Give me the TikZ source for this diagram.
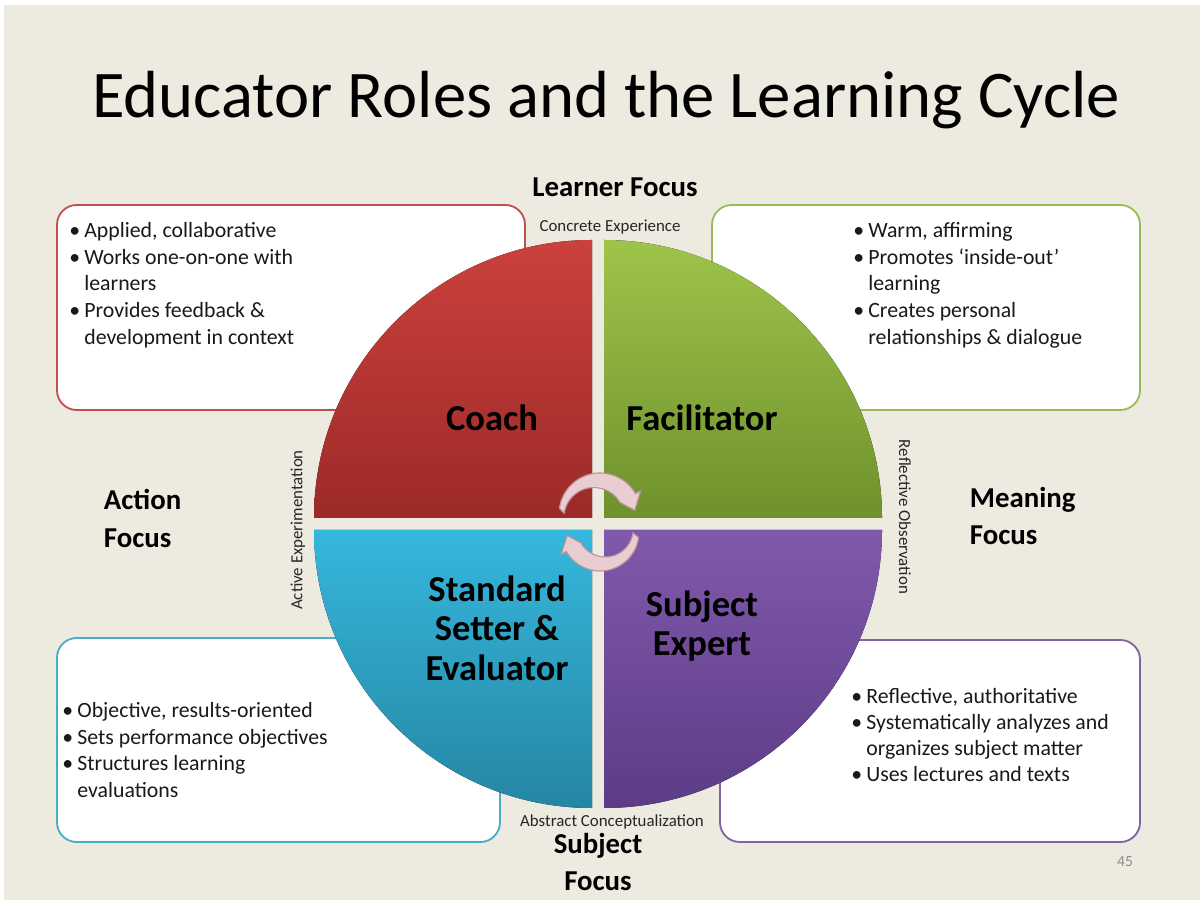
\documentclass[tikz,border=0pt]{standalone}
\usepackage{fontspec}
\setmainfont{Carlito}
\usetikzlibrary{calc}
\definecolor{Paper}{HTML}{EDEAE0}
\definecolor{RedLn}{HTML}{C0504D}
\definecolor{GrnLn}{HTML}{9BBB59}
\definecolor{BluLn}{HTML}{4BACC6}
\definecolor{PurLn}{HTML}{8064A2}
\definecolor{RedTop}{HTML}{CB413C}
\definecolor{RedBot}{HTML}{9C2A28}
\definecolor{GrnTop}{HTML}{9EC44B}
\definecolor{GrnBot}{HTML}{6E912C}
\definecolor{BluTop}{HTML}{36B7DD}
\definecolor{BluBot}{HTML}{2586A3}
\definecolor{PurTop}{HTML}{8159AC}
\definecolor{PurBot}{HTML}{5C3C86}
\definecolor{ArrFill}{HTML}{E9CDD0}
\definecolor{ArrLn}{HTML}{B7959A}
\newcommand{\bul}{\textbullet\hspace{3pt}}
\newcommand{\ind}{\hphantom{\textbullet\hspace{3pt}}}

\begin{document}
\begin{tikzpicture}[x=0.025cm,y=0.025cm]
% Styles
\tikzset{
    infobox/.style={line width=1.3pt, rounded corners=14pt, fill=white},
    boxtext/.style={anchor=north west, align=left, inner sep=0pt,
        font=\fontsize{15.5}{19}\selectfont, text=black!90},
    quadtext/.style={align=center, font=\fontsize{26}{28}\selectfont\bfseries},
    focustext/.style={align=left, font=\fontsize{20.5}{27}\selectfont\bfseries},
    tinytext/.style={font=\fontsize{12}{13}\selectfont, text=black!85},
    cyclearrow/.style={fill=ArrFill, draw=ArrLn, line width=0.8pt}
}

% Page
\useasboundingbox (0,0) rectangle (1200,900);
\fill[Paper] (4,0) rectangle (1200,895);

% Title
\node (TITLE) at (606,800) {\fontsize{47.4}{56}\selectfont Educator Roles and the Learning Cycle};

% Boxes
\path[infobox, draw=RedLn] (57,490) rectangle (525,695);
\path[infobox, draw=GrnLn] (712,490) rectangle (1140,695);
\path[infobox, draw=BluLn] (57,58) rectangle (500,262);
\path[infobox, draw=PurLn] (720,58) rectangle (1140,260);

\node[boxtext] (TXT1) at (69,678) {\bul Applied, collaborative\\
    \bul Works one-on-one with\\ \ind learners\\
    \bul Provides feedback \& \\ \ind development in context};
\node[boxtext] (TXT2) at (853,678) {\bul Warm, affirming\\
    \bul Promotes `inside-out'\\ \ind learning\\
    \bul Creates personal\\ \ind relationships \& dialogue};
\node[boxtext] (TXT3) at (62,198) {\bul Objective, results-oriented\\
    \bul Sets performance objectives\\
    \bul Structures learning\\ \ind evaluations};
\node[boxtext, font=\fontsize{15.5}{18.5}\selectfont] (TXT4) at (851,212) {\bul Reflective, authoritative\\
    \bul Systematically analyzes and\\ \ind organizes subject matter\\
    \bul Uses lectures and texts};

% Quadrants
\fill[top color=RedTop, bottom color=RedBot] (592,382) -- ++(-278,0) arc (180:90:278) -- cycle;
\fill[top color=GrnTop, bottom color=GrnBot] (604,382) -- ++(0,278) arc (90:0:278) -- cycle;
\fill[top color=BluTop, bottom color=BluBot] (592,370) -- ++(0,-278) arc (270:180:278) -- cycle;
\fill[top color=PurTop, bottom color=PurBot] (604,370) -- ++(278,0) arc (0:-90:278) -- cycle;

\node[quadtext] (Q1) at (492,482) {Coach};
\node[quadtext] (Q2) at (702,482) {Facilitator};
\node[quadtext] (Q3) at (497,272) {Standard\\Setter \&\\Evaluator};
\node[quadtext] (Q4) at (702,274) {Subject\\Expert};

% Cycle arrows
\filldraw[cyclearrow] (600,386) ++(172:41) arc (172:30:41) -- ++(30:6)
    -- ($(600,386)+(6:35)$) -- ($(600,386)+(30:23)$) arc (30:172:30) -- cycle;
\filldraw[cyclearrow] (600,368) ++(-8:39) arc (-8:-150:39) -- ++(-150:6)
    -- ($(600,368)+(-174:33)$) -- ($(600,368)+(-150:22)$) arc (-150:-8:28) -- cycle;

% Focus labels
\node[focustext] (LF) at (615,713) {Learner Focus};
\node[focustext, anchor=west] (AF) at (99,382) {Action\\Focus};
\node[focustext, anchor=west] (MF) at (965,384) {Meaning\\Focus};
\node[focustext, align=center] (SF) at (598,38) {Subject\\Focus};

% Stage labels
\node[tinytext] (CE) at (610,673) {Concrete Experience};
\node[tinytext] (AC) at (612,78) {Abstract Conceptualization};
\node[tinytext, rotate=90] (AE) at (298,370) {Active Experimentation};
\node[tinytext, rotate=-90] (RO) at (905,383) {Reflective Observation};

% Page number
\node[text=black!45, font=\fontsize{11}{13}\selectfont] (PG) at (1125,38) {45};
\end{tikzpicture}
\end{document}
